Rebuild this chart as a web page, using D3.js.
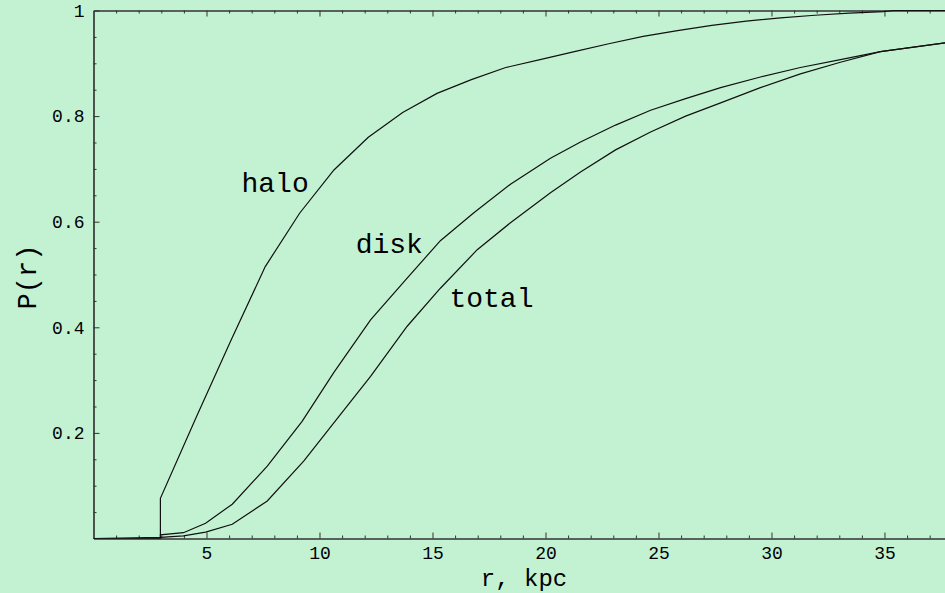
<!DOCTYPE html>
<html>
<head>
<meta charset="utf-8">
<script src="https://cdn.jsdelivr.net/npm/d3@7"></script>
<style>
  html, body { margin: 0; padding: 0; background: #c3f2d3; }
  svg { display: block; }
  text { font-family: "Liberation Mono", "DejaVu Sans Mono", monospace; fill: #000; }
</style>
</head>
<body>
<div id="chart"></div>
<script>
// values (r in kpc, P(r))
var haloR = [0, 2.96, 2.96, 4.56, 6.08, 7.6, 9.12, 10.64, 12.16, 13.68, 15.2, 16.72, 18.24, 19.76, 21.28, 22.8, 24.32, 25.84, 27.36, 28.88, 30.4, 31.92, 33.44, 34.96, 35.4, 37.7];
var haloP = [0, 0, 0.076, 0.231, 0.375, 0.515, 0.616, 0.698, 0.760, 0.807, 0.843, 0.869, 0.892, 0.907, 0.922, 0.937, 0.951, 0.962, 0.972, 0.980, 0.986, 0.991, 0.995, 0.998, 1, 1];

var diskR = [0, 2.96, 2.96, 3.98, 4.96, 6.14, 7.69, 9.23, 10.63, 12.26, 13.81, 15.35, 16.83, 18.45, 20.22, 21.55, 23.1, 24.65, 26.2, 27.75, 29.51, 31.28, 33.05, 34.82, 37.7];
var diskP = [0, 0, 0.007, 0.011, 0.029, 0.065, 0.137, 0.222, 0.314, 0.414, 0.490, 0.564, 0.617, 0.671, 0.720, 0.751, 0.783, 0.811, 0.833, 0.854, 0.874, 0.892, 0.907, 0.922, 0.939];

var totalR = [0, 2.96, 3.98, 4.96, 6.14, 7.69, 9.31, 10.8, 12.26, 13.88, 15.35, 16.98, 18.45, 20.22, 21.55, 23.1, 24.65, 26.2, 27.75, 29.51, 31.28, 33.05, 34.82, 37.7];
var totalP = [0, 0.002, 0.005, 0.012, 0.027, 0.071, 0.147, 0.228, 0.307, 0.402, 0.474, 0.547, 0.598, 0.655, 0.694, 0.736, 0.770, 0.800, 0.825, 0.854, 0.880, 0.902, 0.922, 0.939];

var xTicks = [5, 10, 15, 20, 25, 30, 35];
var yTicks = [0.2, 0.4, 0.6, 0.8, 1];
var yTickLabels = ["0.2", "0.4", "0.6", "0.8", "1"];

var curveNames = ["halo", "disk", "total"];
var labelR = [6.55, 11.6, 15.75];
var labelP = [0.657, 0.540, 0.439];

var W = 945, H = 593;
var svg = d3.select("#chart").append("svg")
    .attr("width", W)
    .attr("height", H);

svg.append("rect")
    .attr("width", W).attr("height", H)
    .attr("fill", "#c3f2d3");

var x = d3.scaleLinear().domain([0, 37.7]).range([93.5, 945.5]);
var y = d3.scaleLinear().domain([0, 1]).range([538.5, 10.5]);

//minor tick values
var xMinor = d3.range(1, 38).filter(function(d) { return d % 5 !== 0; });
var yMinor = d3.range(1, 20).map(function(d) { return d * 0.05; })
    .filter(function(d) { return Math.abs(d * 5 - Math.round(d * 5)) > 1e-6; });

// bottom axis
var gb = svg.append("g").attr("transform", "translate(0," + y(0) + ")");
gb.call(d3.axisBottom(x).tickValues(xTicks).tickSize(-6).tickSizeOuter(0).tickPadding(8).tickFormat(d3.format("d")));
gb.append("g").call(d3.axisBottom(x).tickValues(xMinor).tickSize(-3).tickSizeOuter(0).tickFormat(""));

// top axis, ticks only
var gt = svg.append("g").attr("transform", "translate(0," + y(1) + ")");
gt.call(d3.axisTop(x).tickValues(xTicks).tickSize(-6).tickSizeOuter(0).tickFormat(""));
gt.append("g").call(d3.axisTop(x).tickValues(xMinor).tickSize(-3).tickSizeOuter(0).tickFormat(""));

// left axis
var gl = svg.append("g").attr("transform", "translate(" + x(0) + ",0)");
gl.call(d3.axisLeft(y).tickValues(yTicks).tickSize(-6).tickSizeOuter(0).tickPadding(9)
    .tickFormat(function(d, i) { return yTickLabels[i]; }));
gl.append("g").call(d3.axisLeft(y).tickValues(yMinor).tickSize(-3).tickSizeOuter(0).tickFormat(""));

svg.selectAll(".domain").attr("stroke", "#333");
gl.select(".domain").attr("stroke", "#000");
svg.selectAll(".tick line").attr("stroke", "#333");
svg.selectAll(".tick text").style("font-size", "18px").attr("fill", "#000");

// curves
svg.append("clipPath").attr("id", "plotclip")
  .append("rect")
    .attr("x", x(0)).attr("y", y(1) - 1)
    .attr("width", x(37.7) - x(0)).attr("height", y(0) - y(1) + 1);

var line = d3.line()
    .x(function(d) { return x(d[0]); })
    .y(function(d) { return y(d[1]); });

var series = [d3.zip(haloR, haloP), d3.zip(diskR, diskP), d3.zip(totalR, totalP)];

svg.append("g").attr("clip-path", "url(#plotclip)")
  .selectAll("path.curve")
    .data(series).enter().append("path")
    .attr("class", "curve")
    .attr("d", line)
    .attr("fill", "none")
    .attr("stroke", "#111")
    .attr("stroke-width", 1.2);

// curve labels
svg.selectAll("text.clabel")
    .data(curveNames).enter().append("text")
    .attr("class", "clabel")
    .attr("x", function(d, i) { return x(labelR[i]); })
    .attr("y", function(d, i) { return y(labelP[i]); })
    .style("font-size", "28px")
    .text(function(d) { return d; });

// axis titles
svg.append("text")
    .attr("x", 524)
    .attr("y", 585.5)
    .attr("text-anchor", "middle")
    .style("font-size", "24px")
    .text("r, kpc");

svg.append("text")
    .attr("transform", "translate(36,277) rotate(-90)")
    .attr("text-anchor", "middle")
    .style("font-size", "27px")
    .text("P(r)");
</script>
</body>
</html>
